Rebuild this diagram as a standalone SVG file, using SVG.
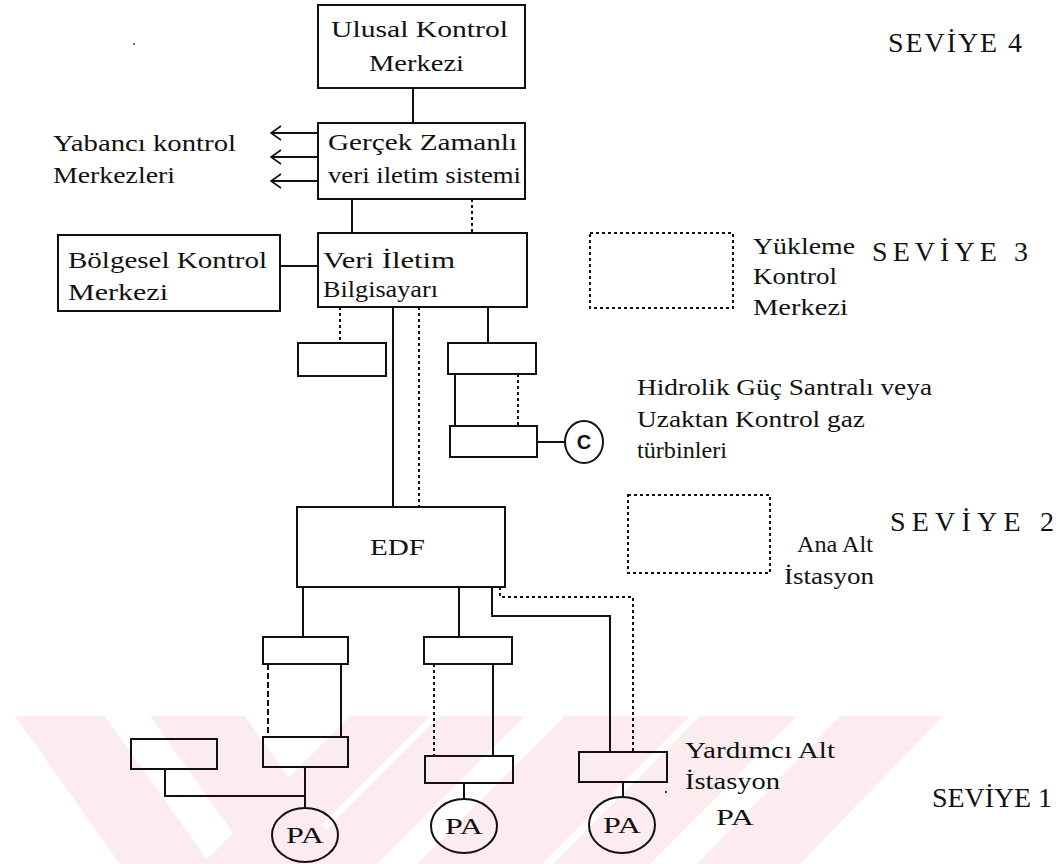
<svg xmlns="http://www.w3.org/2000/svg" width="1059" height="864" viewBox="0 0 1059 864">
<style>
.bg{fill:#fff}
.wm{fill:#fdecef}
.box{fill:none;stroke:#111;stroke-width:2}
.dbox{fill:none;stroke:#111;stroke-width:2;stroke-dasharray:3 3}
.ln{fill:none;stroke:#111;stroke-width:2}
.dot{stroke-dasharray:3 3}
.dash{stroke-dasharray:6 3}
.t{font-family:"Liberation Serif","DejaVu Serif",serif;font-size:24px;fill:#111}
.lv{font-family:"Liberation Serif","DejaVu Serif",serif;font-size:28px;fill:#111}
.c{font-family:"Liberation Sans","DejaVu Sans",sans-serif;font-size:20px;font-weight:bold;fill:#111}
</style>
<defs>
<marker id="open" viewBox="0 0 12 16" refX="11" refY="8" markerWidth="12" markerHeight="16" markerUnits="userSpaceOnUse" orient="auto">
<path d="M1,1 L11,8 L1,15" fill="none" stroke="#111" stroke-width="1.6"/>
</marker>
</defs>
<rect class="bg" x="0" y="0" width="1059" height="864"/>
<g id="watermark">
<polygon class="wm" points="15,716 105,716 210,864 120,864"/>
<polygon class="wm" points="150,716 245,716 350,864 255,864"/>
<polygon class="wm" points="350,716 430,716 282,864 202,864"/>
<polygon class="wm" points="440,716 525,716 377,864 292,864"/>
<polygon class="wm" points="565,716 690,716 542,864 417,864"/>
<polygon class="wm" points="700,716 797,716 650,864 553,864"/>
<polygon class="wm" points="840,716 943,716 800,864 697,864"/>
</g>
<g id="connectors">
<path class="ln" d="M413 88 V123"/>
<path class="ln" d="M318 133 H271" marker-end="url(#open)" stroke-width="1.6"/>
<path class="ln" d="M318 157 H271" marker-end="url(#open)" stroke-width="1.6"/>
<path class="ln" d="M318 181 H271" marker-end="url(#open)" stroke-width="1.6"/>
<path class="ln" d="M352 199 V233"/>
<path class="ln dot" d="M472 199 V233"/>
<path class="ln" d="M280 266 H318"/>
<path class="ln dot" d="M340 307 V343"/>
<path class="ln" d="M393 307 V507"/>
<path class="ln dot" d="M419 307 V507"/>
<path class="ln" d="M488 307 V343"/>
<path class="ln" d="M455 374 V426"/>
<path class="ln dot" d="M518 374 V426"/>
<path class="ln" d="M537 442 H565"/>
<path class="ln" d="M303 587 V637"/>
<path class="ln" d="M459 587 V637"/>
<path class="ln" d="M492 587 V616 H610 V752"/>
<path class="ln dot" d="M500 587 V597 H633 V752"/>
<path class="ln dash" d="M268 664 V737"/>
<path class="ln" d="M341 664 V737"/>
<path class="ln dot" d="M434 664 V756"/>
<path class="ln" d="M493 664 V756"/>
<path class="ln" d="M165 769 V796 H305"/>
<path class="ln" d="M305 767 V808"/>
<path class="ln" d="M464 783 V799"/>
<path class="ln" d="M623 782 V797"/>
</g>
<g id="ulusal">
<rect class="box" x="318" y="5" width="207" height="83"/>
<text class="t" x="331" y="37" textLength="177" lengthAdjust="spacingAndGlyphs">Ulusal Kontrol</text>
<text class="t" x="369" y="71" textLength="95" lengthAdjust="spacingAndGlyphs">Merkezi</text>
</g>
<g id="gercek">
<rect class="box" x="318" y="123" width="207" height="76"/>
<text class="t" x="328" y="150" textLength="189" lengthAdjust="spacingAndGlyphs">Gerçek Zamanlı</text>
<text class="t" x="328" y="183" textLength="193" lengthAdjust="spacingAndGlyphs">veri iletim sistemi</text>
</g>
<g id="yabanci">
<text class="t" x="53" y="151" textLength="183" lengthAdjust="spacingAndGlyphs">Yabancı kontrol</text>
<text class="t" x="53" y="183" textLength="122" lengthAdjust="spacingAndGlyphs">Merkezleri</text>
</g>
<g id="veri">
<rect class="box" x="318" y="233" width="209" height="74"/>
<text class="t" x="323" y="268" textLength="132" lengthAdjust="spacingAndGlyphs">Veri İletim</text>
<text class="t" x="323" y="297" textLength="115" lengthAdjust="spacingAndGlyphs">Bilgisayarı</text>
</g>
<g id="bolgesel">
<rect class="box" x="58" y="235" width="222" height="76"/>
<text class="t" x="68" y="268" textLength="199" lengthAdjust="spacingAndGlyphs">Bölgesel Kontrol</text>
<text class="t" x="68" y="300" textLength="100" lengthAdjust="spacingAndGlyphs">Merkezi</text>
</g>
<g id="yukleme">
<rect class="dbox" x="590" y="233" width="143" height="75"/>
<text class="t" x="753" y="254" textLength="102" lengthAdjust="spacingAndGlyphs">Yükleme</text>
<text class="t" x="753" y="284" textLength="84" lengthAdjust="spacingAndGlyphs">Kontrol</text>
<text class="t" x="753" y="315" textLength="95" lengthAdjust="spacingAndGlyphs">Merkezi</text>
</g>
<g id="levels">
<text class="lv" x="888" y="52" textLength="134">SEVİYE 4</text>
<text class="lv" x="872" y="261" textLength="156">SEVİYE 3</text>
<text class="lv" x="890" y="531" textLength="164">SEVİYE 2</text>
<text class="lv" x="932" y="807" textLength="120">SEVİYE 1</text>
</g>
<g id="small-box">
<rect class="box" x="298" y="343" width="88" height="33"/>
</g>
<g id="hydro-top">
<rect class="box" x="448" y="343" width="88" height="31"/>
</g>
<g id="hydro-bottom">
<rect class="box" x="450" y="426" width="87" height="31"/>
</g>
<g id="c-node">
<ellipse class="box" cx="584" cy="442" rx="19" ry="21"/>
<text class="c" x="584" y="449" text-anchor="middle">C</text>
</g>
<g id="hidrolik-label">
<text class="t" x="637" y="395" textLength="295" lengthAdjust="spacingAndGlyphs">Hidrolik Güç Santralı veya</text>
<text class="t" x="637" y="427" textLength="228" lengthAdjust="spacingAndGlyphs">Uzaktan Kontrol gaz</text>
<text class="t" x="637" y="458" textLength="90" lengthAdjust="spacingAndGlyphs">türbinleri</text>
</g>
<g id="edf">
<rect class="box" x="297" y="507" width="208" height="80"/>
<text class="t" x="370" y="555" textLength="55" lengthAdjust="spacingAndGlyphs">EDF</text>
</g>
<g id="ana-alt">
<rect class="dbox" x="628" y="495" width="142" height="78"/>
<text class="t" x="797" y="552" textLength="76" lengthAdjust="spacingAndGlyphs">Ana Alt</text>
<text class="t" x="784" y="584" textLength="90" lengthAdjust="spacingAndGlyphs">İstasyon</text>
</g>
<g id="b1"><rect class="box" x="263" y="637" width="85" height="27"/></g>
<g id="b2"><rect class="box" x="424" y="637" width="88" height="27"/></g>
<g id="b3"><rect class="box" x="263" y="737" width="85" height="30"/></g>
<g id="bx"><rect class="box" x="131" y="739" width="86" height="30"/></g>
<g id="b4"><rect class="box" x="425" y="756" width="88" height="27"/></g>
<g id="b5"><rect class="box" x="579" y="752" width="88" height="30"/></g>
<g id="pa1">
<ellipse class="box" cx="305" cy="835" rx="33" ry="27"/>
<text class="t" x="305" y="843" text-anchor="middle" textLength="38" lengthAdjust="spacingAndGlyphs">PA</text>
</g>
<g id="pa2">
<ellipse class="box" cx="464" cy="826" rx="33" ry="27"/>
<text class="t" x="464" y="834" text-anchor="middle" textLength="38" lengthAdjust="spacingAndGlyphs">PA</text>
</g>
<g id="pa3">
<ellipse class="box" cx="622" cy="825" rx="33" ry="28"/>
<text class="t" x="622" y="833" text-anchor="middle" textLength="38" lengthAdjust="spacingAndGlyphs">PA</text>
</g>
<g id="yardimci-label">
<text class="t" x="685" y="758" textLength="150" lengthAdjust="spacingAndGlyphs">Yardımcı Alt</text>
<text class="t" x="685" y="789" textLength="95" lengthAdjust="spacingAndGlyphs">İstasyon</text>
<text class="t" x="716" y="825" textLength="38" lengthAdjust="spacingAndGlyphs">PA</text>
</g>
<g id="specks">
<circle cx="134" cy="44" r="1" fill="#444"/>
<circle cx="666" cy="792" r="1.2" fill="#444"/>
</g>
</svg>
